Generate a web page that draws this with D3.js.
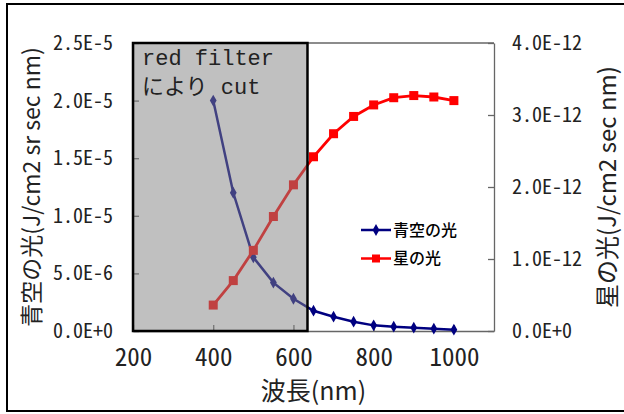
<!DOCTYPE html>
<html>
<head>
<meta charset="utf-8">
<script src="https://cdn.jsdelivr.net/npm/d3@7"></script>
<style>
  body { margin: 0; background: #fff; }
  svg { display: block; }
  .tick text { font-family: "Noto Sans Mono CJK JP", "DejaVu Sans Mono", monospace; fill: #222; }
</style>
</head>
<body>
<div id="chart"></div>
<script>
// wavelength (nm)
var wavelengths = [400, 450, 500, 550, 600, 650, 700, 750, 800, 850, 900, 950, 1000]
// 青空の光 (left axis)
var skyLight = [2.0e-5, 1.2e-5, 6.4e-6, 4.2e-6, 2.8e-6, 1.76e-6, 1.24e-6, 8.1e-7, 4.9e-7, 3.7e-7, 2.9e-7, 2.0e-7, 1.1e-7]
// 星の光 (right axis)
var starLight = [3.6e-13, 7.0e-13, 1.12e-12, 1.59e-12, 2.03e-12, 2.42e-12, 2.74e-12, 2.98e-12, 3.14e-12, 3.24e-12, 3.27e-12, 3.25e-12, 3.20e-12]

var seriesNames = ["青空の光", "星の光"]
var xTicks = [200, 400, 600, 800, 1000]
var xLabels = ["200", "400", "600", "800", "1000"]
var leftTicks = [0, 5e-6, 1e-5, 1.5e-5, 2e-5, 2.5e-5]
var leftLabels = ["0.0E+0", "5.0E-6", "1.0E-5", "1.5E-5", "2.0E-5", "2.5E-5"]
var rightTicks = [0, 1e-12, 2e-12, 3e-12, 4e-12]
var rightLabels = ["0.0E+0", "1.0E-12", "2.0E-12", "3.0E-12", "4.0E-12"]
var cutRange = [200, 635]

var W = 624, H = 414
var plot = {left: 133, top: 43, right: 494, bottom: 331}

var svg = d3.select("#chart").append("svg")
  .attr("width", W)
  .attr("height", H)

// outer frame (right edge runs off the picture)
svg.append("rect")
  .attr("x", 7).attr("y", 4)
  .attr("width", 640).attr("height", 407)
  .attr("fill", "none").attr("stroke", "#000").attr("stroke-width", 2)

var x = d3.scaleLinear().domain([200, 1100]).range([plot.left, plot.right])
var yL = d3.scaleLinear().domain([0, 2.5e-5]).range([plot.bottom, plot.top])
var yR = d3.scaleLinear().domain([0, 4e-12]).range([plot.bottom, plot.top])

// plot area top line
svg.append("line")
  .attr("x1", plot.left).attr("x2", plot.right)
  .attr("y1", plot.top).attr("y2", plot.top)
  .attr("stroke", "#666").attr("stroke-width", 1.3)

var xAxis = svg.append("g")
  .attr("transform", "translate(0," + plot.bottom + ")")
  .call(d3.axisBottom(x).tickValues(xTicks).tickFormat((d, i) => xLabels[i])
    .tickSizeInner(-6).tickSizeOuter(0).tickPadding(17))
xAxis.selectAll("text").style("font-size", "25px")

var leftAxis = svg.append("g")
  .attr("transform", "translate(" + plot.left + ",0)")
  .call(d3.axisLeft(yL).tickValues(leftTicks).tickFormat((d, i) => leftLabels[i])
    .tickSizeInner(-6).tickSizeOuter(0).tickPadding(20))
leftAxis.selectAll("text").style("font-size", "20px")

var rightAxis = svg.append("g")
  .attr("transform", "translate(" + plot.right + ",0)")
  .call(d3.axisRight(yR).tickValues(rightTicks).tickFormat((d, i) => rightLabels[i])
    .tickSizeInner(-6).tickSizeOuter(0).tickPadding(18))
rightAxis.selectAll("text").style("font-size", "20px")

svg.selectAll(".domain, .tick line").attr("stroke", "#666").attr("stroke-width", 1.3)

// series
var skyData = wavelengths.map((w, i) => ({w: w, v: skyLight[i]}))
var starData = wavelengths.map((w, i) => ({w: w, v: starLight[i]}))

svg.append("path")
  .datum(skyData)
  .attr("fill", "none").attr("stroke", "#000080").attr("stroke-width", 2.5)
  .attr("d", d3.line().x(d => x(d.w)).y(d => yL(d.v)))

svg.selectAll("path.sky")
  .data(skyData).enter().append("path")
  .attr("class", "sky")
  .attr("transform", d => "translate(" + x(d.w) + "," + yL(d.v) + ")")
  .attr("d", d3.symbol().type(d3.symbolDiamond).size(40))
  .attr("fill", "#000080")

svg.append("path")
  .datum(starData)
  .attr("fill", "none").attr("stroke", "#ff0000").attr("stroke-width", 2.8)
  .attr("d", d3.line().x(d => x(d.w)).y(d => yR(d.v)))

svg.selectAll("rect.star")
  .data(starData).enter().append("rect")
  .attr("class", "star")
  .attr("x", d => x(d.w) - 4.5).attr("y", d => yR(d.v) - 4.5)
  .attr("width", 9).attr("height", 9)
  .attr("fill", "#ff0000")

// red filter region
svg.append("rect")
  .attr("x", x(cutRange[0])).attr("y", plot.top)
  .attr("width", x(cutRange[1]) - x(cutRange[0])).attr("height", plot.bottom - plot.top)
  .attr("fill", "#818181").attr("fill-opacity", 0.5)
  .attr("stroke", "#000").attr("stroke-width", 2.5)

var note = svg.append("text")
  .attr("font-family", "'Liberation Mono', 'Noto Sans CJK JP', monospace")
  .attr("font-size", 22)
  .attr("fill", "#222")
note.append("tspan").attr("x", 142).attr("y", 65).text("red filter")
note.append("tspan").attr("x", 142).attr("y", 94).text("により cut")

// legend
var legend = svg.append("g")
  .attr("transform", "translate(361,230)")
var colors = ["#000080", "#ff0000"]
seriesNames.forEach(function(name, i) {
  var g = legend.append("g").attr("transform", "translate(0," + (i * 28.5) + ")")
  g.append("line").attr("x1", 0).attr("x2", 30).attr("stroke", colors[i]).attr("stroke-width", 2.5)
  if (i === 0) {
    g.append("path").attr("transform", "translate(15,0)")
      .attr("d", d3.symbol().type(d3.symbolDiamond).size(40)).attr("fill", colors[i])
  } else {
    g.append("rect").attr("x", 11).attr("y", -4).attr("width", 8).attr("height", 8).attr("fill", colors[i])
  }
  g.append("text").attr("x", 32).attr("dy", "0.36em")
    .attr("font-family", "'Noto Sans CJK JP', sans-serif")
    .attr("font-size", 16).attr("font-weight", 500).attr("fill", "#000")
    .text(name)
})

// axis titles
svg.append("text")
  .attr("x", (plot.left + plot.right) / 2).attr("y", 400)
  .attr("text-anchor", "middle")
  .attr("font-family", "'Noto Sans CJK JP', sans-serif")
  .attr("font-size", 25).attr("fill", "#222")
  .text("波長(nm)")

svg.append("text")
  .attr("transform", "translate(40," + (plot.top + plot.bottom) / 2 + ") rotate(-90)")
  .attr("text-anchor", "middle")
  .attr("font-family", "'Noto Sans CJK JP', sans-serif")
  .attr("font-size", 23).attr("fill", "#222")
  .text("青空の光(J/cm2 sr sec nm)")

svg.append("text")
  .attr("transform", "translate(616," + (plot.top + plot.bottom) / 2 + ") rotate(-90)")
  .attr("text-anchor", "middle")
  .attr("font-family", "'Noto Sans CJK JP', sans-serif")
  .attr("font-size", 24).attr("fill", "#222")
  .text("星の光(J/cm2 sec nm)")
</script>
</body>
</html>
